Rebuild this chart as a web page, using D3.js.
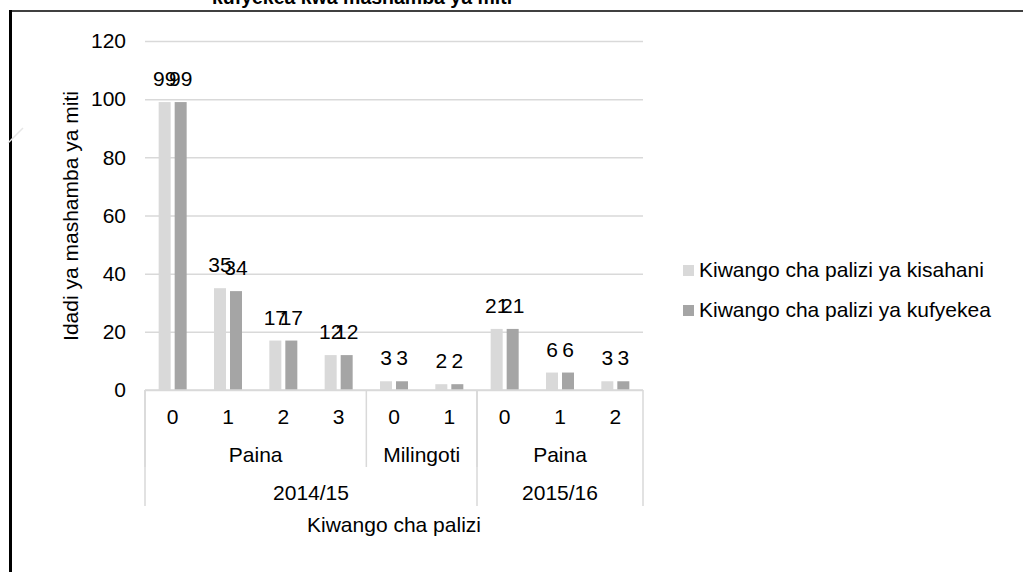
<!DOCTYPE html>
<html>
<head>
<meta charset="utf-8">
<script src="https://cdn.jsdelivr.net/npm/d3@7"></script>
<style>
  body { margin: 0; background: #fff; }
  svg { display: block; }
  text { font-family: 'Liberation Sans', Arial, sans-serif; fill: #000; }
</style>
</head>
<body>
<svg id="chart" width="1023" height="572"></svg>
<script>
'use strict';

// Data
var categories = ['0', '1', '2', '3', '0', '1', '0', '1', '2'];
var treeTypes = ['Paina', 'Paina', 'Paina', 'Paina', 'Milingoti', 'Milingoti', 'Paina', 'Paina', 'Paina'];
var seasons = ['2014/15', '2014/15', '2014/15', '2014/15', '2014/15', '2014/15', '2015/16', '2015/16', '2015/16'];
var kisahani = [99, 35, 17, 12, 3, 2, 21, 6, 3];
var kufyekea = [99, 34, 17, 12, 3, 2, 21, 6, 3];
var seriesNames = ['Kiwango cha palizi ya kisahani', 'Kiwango cha palizi ya kufyekea'];
var seriesColors = ['#d9d9d9', '#a5a5a5'];
var yTicks = [0, 20, 40, 60, 80, 100, 120];

var FONT = 21;
var svg = d3.select('#chart');

// Frame of the surrounding document
svg.append('line')
    .attr('x1', 10).attr('x2', 1023).attr('y1', 11).attr('y2', 11)
    .style('stroke', '#000').style('stroke-width', 1.5);
svg.append('line')
    .attr('x1', 10.5).attr('x2', 10.5).attr('y1', 10).attr('y2', 572)
    .style('stroke', '#000').style('stroke-width', 3);
svg.append('line')
    .attr('x1', 8).attr('x2', 23).attr('y1', 143).attr('y2', 128)
    .style('stroke', '#e6e6e6').style('stroke-width', 1.5);

// Title, cut off at the top
svg.append('text')
    .attr('x', 362).attr('y', 4)
    .attr('text-anchor', 'middle')
    .style('font-weight', 'bold')
    .style('font-size', '19.5px')
    .text('kufyekea kwa mashamba ya miti');

var x0 = d3.scaleBand()
    .domain(d3.range(categories.length))
    .range([145, 643])
    .paddingInner(0.494)
    .paddingOuter(0.247);
var x1 = d3.scaleBand()
    .domain([0, 1])
    .range([0, x0.bandwidth()])
    .paddingInner(0.25);
var y = d3.scaleLinear().domain([0, 120]).range([390, 41]);

// Gridlines and y labels
var yAxis = d3.axisLeft(y)
    .tickValues(yTicks)
    .tickSize(-(643 - 145))
    .tickPadding(19);
var yAxisElement = svg.append('g')
    .attr('transform', 'translate(145,0)')
    .call(yAxis);
yAxisElement.select('.domain').remove();
yAxisElement.selectAll('.tick line')
    .style('stroke', '#d9d9d9')
    .style('stroke-width', 1.5);
yAxisElement.selectAll('.tick text')
    .style('font-size', FONT + 'px')
    .style('font-family', "'Liberation Sans', Arial, sans-serif")
    .attr('fill', '#000');

svg.append('text')
    .attr('transform', 'translate(78,216) rotate(-90)')
    .attr('text-anchor', 'middle')
    .style('font-size', FONT + 'px')
    .text('Idadi ya mashamba ya miti');

// Bars
var series = [kisahani, kufyekea];
series.forEach(function (values, s) {
    var g = svg.append('g');
    g.selectAll('rect')
        .data(values)
        .enter().append('rect')
        .attr('x', function (d, i) { return x0(i) + x1(s); })
        .attr('y', function (d) { return y(d); })
        .attr('width', x1.bandwidth())
        .attr('height', function (d) { return y(0) - y(d); })
        .style('fill', seriesColors[s]);
    g.selectAll('text')
        .data(values)
        .enter().append('text')
        .attr('x', function (d, i) { return x0(i) + x1(s) + x1.bandwidth() / 2; })
        .attr('y', function (d) { return y(d) - 16; })
        .attr('text-anchor', 'middle')
        .style('font-size', FONT + 'px')
        .text(function (d) { return d; });
});

// Multi-level category axis
var step = x0.step();
var left = 145, right = 643, base = y(0);
var axisColor = '#d9d9d9';

function runs(labels) {
    var out = [];
    labels.forEach(function (l, i) {
        var key = l + '|' + seasons[i];
        var last = out[out.length - 1];
        if (last && last.key === key) last.end = i;
        else out.push({ key: key, label: l, start: i, end: i });
    });
    return out;
}
var typeRuns = runs(treeTypes);
var seasonRuns = runs(seasons);

svg.append('line')
    .attr('x1', left).attr('x2', right).attr('y1', base).attr('y2', base)
    .style('stroke', axisColor).style('stroke-width', 1.5);

function edge(i) { return left + i * step; }

typeRuns.forEach(function (r) {
    svg.append('line')
        .attr('x1', edge(r.start)).attr('x2', edge(r.start))
        .attr('y1', base).attr('y2', 467)
        .style('stroke', axisColor).style('stroke-width', 1.5);
});
seasonRuns.forEach(function (r) {
    svg.append('line')
        .attr('x1', edge(r.start)).attr('x2', edge(r.start))
        .attr('y1', base).attr('y2', 506)
        .style('stroke', axisColor).style('stroke-width', 1.5);
});
svg.append('line')
    .attr('x1', right).attr('x2', right).attr('y1', base).attr('y2', 506)
    .style('stroke', axisColor).style('stroke-width', 1.5);

svg.append('g').selectAll('text')
    .data(categories)
    .enter().append('text')
    .attr('x', function (d, i) { return x0(i) + x0.bandwidth() / 2; })
    .attr('y', 424)
    .attr('text-anchor', 'middle')
    .style('font-size', FONT + 'px')
    .text(function (d) { return d; });

svg.append('g').selectAll('text')
    .data(typeRuns)
    .enter().append('text')
    .attr('x', function (r) { return (edge(r.start) + edge(r.end + 1)) / 2; })
    .attr('y', 462)
    .attr('text-anchor', 'middle')
    .style('font-size', FONT + 'px')
    .text(function (r) { return r.label; });

svg.append('g').selectAll('text')
    .data(seasonRuns)
    .enter().append('text')
    .attr('x', function (r) { return (edge(r.start) + edge(r.end + 1)) / 2; })
    .attr('y', 500)
    .attr('text-anchor', 'middle')
    .style('font-size', FONT + 'px')
    .text(function (r) { return r.label; });

svg.append('text')
    .attr('x', (left + right) / 2)
    .attr('y', 532)
    .attr('text-anchor', 'middle')
    .style('font-size', FONT + 'px')
    .text('Kiwango cha palizi');

// Legend
var legend = svg.append('g')
    .selectAll('g')
    .data(seriesNames)
    .enter().append('g')
    .attr('transform', function (d, i) { return 'translate(683,' + (265 + i * 40) + ')'; });
legend.append('rect')
    .attr('width', 11).attr('height', 11)
    .style('fill', function (d, i) { return seriesColors[i]; });
legend.append('text')
    .attr('x', 16).attr('y', 11.5)
    .style('font-size', FONT + 'px')
    .text(function (d) { return d; });
</script>
</body>
</html>
